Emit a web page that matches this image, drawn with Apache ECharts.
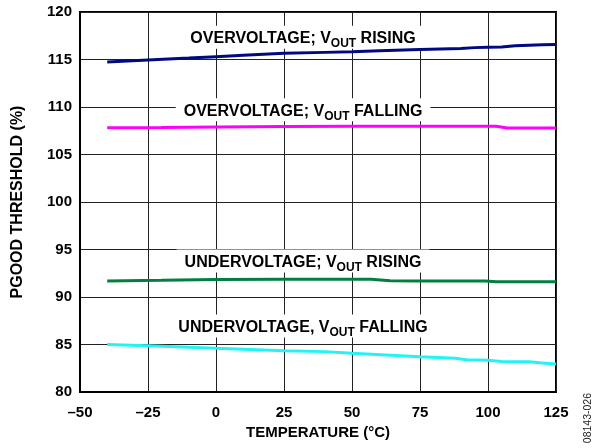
<!DOCTYPE html>
<html>
<head>
<meta charset="utf-8">
<script src="https://cdn.jsdelivr.net/npm/echarts@6/dist/echarts.min.js"></script>
<style>html,body{margin:0;padding:0;background:#fff;}#c{width:599px;height:448px;}</style>
</head>
<body>
<div id="c"></div>
<script>
// Temperatures (°C) and threshold values (%)
var ovRiseT = [-40, -25, -10, 0, 10, 25, 40, 50, 60, 75, 90, 95, 100, 105, 110, 120, 125];
var ovRiseV = [114.74, 114.95, 115.15, 115.3, 115.45, 115.65, 115.75, 115.82, 115.92, 116.05, 116.15, 116.25, 116.3, 116.32, 116.45, 116.55, 116.58];

var ovFallT = [-40, -20, 0, 25, 50, 75, 100, 103, 107, 125];
var ovFallV = [107.82, 107.85, 107.9, 107.96, 107.98, 107.98, 107.98, 107.97, 107.8, 107.8];

var uvRiseT = [-40, -20, 0, 25, 50, 57, 64, 75, 99, 103, 125];
var uvRiseV = [91.68, 91.76, 91.85, 91.87, 91.87, 91.86, 91.7, 91.69, 91.68, 91.6, 91.6];

var uvFallT = [-40, -25, 0, 25, 40, 50, 75, 88, 92, 100, 105, 115, 120, 125];
var uvFallV = [85.0, 84.87, 84.6, 84.35, 84.25, 84.07, 83.7, 83.55, 83.4, 83.35, 83.22, 83.18, 83.05, 82.95];

var xTicks = {min: -50, max: 125, step: 25};
var yTicks = {min: 80, max: 120, step: 5};

// Annotation labels
var labelX = [32, 32, 32, 32];
var labelY = [117.35, 109.7, 93.78, 86.95];
var labelPre = ['OVERVOLTAGE; V', 'OVERVOLTAGE; V', 'UNDERVOLTAGE; V', 'UNDERVOLTAGE, V'];
var labelSub = ['OUT', 'OUT', 'OUT', 'OUT'];
var labelPost = [' RISING', ' FALLING', ' RISING', ' FALLING'];

function zip(t, v) { return t.map(function (x, i) { return [x, v[i]]; }); }

var FONT = 'Liberation Sans, Arial, sans-serif';
var chart = echarts.init(document.getElementById('c'));

var labelData = labelX.map(function (x, i) {
  return {value: [x, labelY[i]], pre: labelPre[i], sub: labelSub[i], post: labelPost[i]};
});

function lineSeries(t, v, color) {
  return {
    type: 'line', data: zip(t, v), symbol: 'none', smooth: false,
    lineStyle: {color: color, width: 3}, z: 4, animation: false
  };
}

chart.setOption({
  animation: false,
  grid: {left: 80, right: 43, top: 12, bottom: 56, show: true, borderColor: '#000', borderWidth: 2, backgroundColor: 'transparent'},
  xAxis: {
    type: 'value', min: xTicks.min, max: xTicks.max, interval: xTicks.step,
    name: 'TEMPERATURE (°C)', nameLocation: 'middle', nameGap: 33,
    nameTextStyle: {fontFamily: FONT, fontWeight: 'bold', fontSize: 15, color: '#000'},
    axisLine: {show: true, onZero: false, lineStyle: {color: '#000', width: 2}},
    axisTick: {show: false},
    axisLabel: {fontFamily: FONT, fontWeight: 'bold', fontSize: 15, color: '#000', margin: 13,
      formatter: function (v) { return String(v).replace('-', '\u2013'); }},
    splitLine: {show: true, lineStyle: {color: '#222', width: 1}}
  },
  yAxis: {
    type: 'value', min: yTicks.min, max: yTicks.max, interval: yTicks.step,
    name: 'PGOOD THRESHOLD (%)', nameLocation: 'middle', nameGap: 54,
    nameTextStyle: {fontFamily: FONT, fontWeight: 'bold', fontSize: 16, color: '#000'},
    axisLine: {show: true, onZero: false, lineStyle: {color: '#000', width: 2}},
    axisTick: {show: false},
    axisLabel: {fontFamily: FONT, fontWeight: 'bold', fontSize: 15, color: '#000', margin: 8},
    splitLine: {show: true, lineStyle: {color: '#222', width: 1}}
  },
  series: [
    lineSeries(ovRiseT, ovRiseV, '#000a80'),
    lineSeries(ovFallT, ovFallV, '#ff00ff'),
    lineSeries(uvRiseT, uvRiseV, '#008040'),
    lineSeries(uvFallT, uvFallV, '#22f4f4'),
    {
      type: 'scatter', data: labelData, symbolSize: 0, z: 2, silent: true,
      itemStyle: {opacity: 1},
      label: {
        show: true, position: 'inside',
        backgroundColor: '#fff', padding: [4, 8, 1, 8],
        formatter: function (p) {
          return '{a|' + p.data.pre + '}{b|' + p.data.sub + '}{a|' + p.data.post + '}';
        },
        rich: {
          a: {fontFamily: FONT, fontWeight: 'bold', fontSize: 16, color: '#000', lineHeight: 18},
          b: {fontFamily: FONT, fontWeight: 'bold', fontSize: 12, color: '#000', lineHeight: 12, padding: [10, 0, 0, 0]}
        }
      }
    }
  ],
  graphic: [{
    type: 'text', left: 583, top: 393, rotation: Math.PI / 2,
    style: {text: '08143-026', font: '10.5px ' + FONT, fill: '#222'}
  }]
});
</script>
</body>
</html>
